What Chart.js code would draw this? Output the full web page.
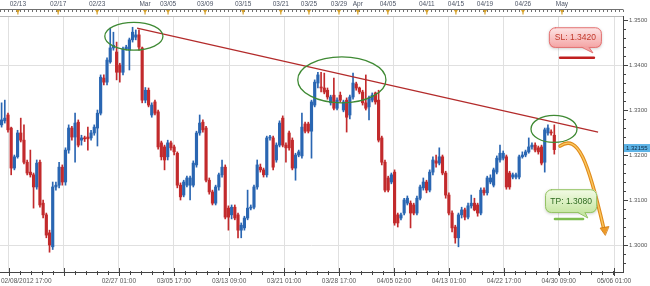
<!DOCTYPE html>
<html lang="en">
<head>
  <meta charset="UTF-8">
  <title>EUR/USD H8</title>
  <script src="https://cdn.jsdelivr.net/npm/chart.js"></script>
  <style>
    html, body { margin: 0; padding: 0; background: #fff; }
    canvas { display: block; }
  </style>
</head>
<body>
  <canvas id="fxChart" width="650" height="286"></canvas>
  <script>
    // candle values (oldest first)
    const opens = [
      1.3267, 1.3276, 1.3289, 1.3260, 1.3171, 1.3196, 1.3249, 1.3233, 1.3184, 1.3162,
      1.3156, 1.3129, 1.3184, 1.3093, 1.3067, 1.3027, 1.2996, 1.3129, 1.3133, 1.3173,
      1.3140, 1.3211, 1.3260, 1.3240, 1.3273, 1.3233, 1.3238, 1.3240, 1.3238, 1.3249,
      1.3260, 1.3293, 1.3371, 1.3362, 1.3407, 1.3438, 1.3429, 1.3400, 1.3384, 1.3436,
      1.3433, 1.3456, 1.3462, 1.3467, 1.3438, 1.3322, 1.3344, 1.3289, 1.3318, 1.3296,
      1.3227, 1.3218, 1.3196, 1.3227, 1.3218, 1.3204, 1.3133, 1.3111, 1.3133, 1.3133,
      1.3133, 1.3178, 1.3249, 1.3273, 1.3260, 1.3144, 1.3118, 1.3093, 1.3129, 1.3156,
      1.3173, 1.3082, 1.3067, 1.3084, 1.3067, 1.3033, 1.3038, 1.3060, 1.3082, 1.3084,
      1.3129, 1.3173, 1.3167, 1.3156, 1.3238, 1.3238, 1.3189, 1.3222, 1.3282, 1.3222,
      1.3249, 1.3233, 1.3171, 1.3200, 1.3198, 1.3269, 1.3269, 1.3253, 1.3311, 1.3360,
      1.3351, 1.3349, 1.3344, 1.3316, 1.3333, 1.3304, 1.3333, 1.3300, 1.3322, 1.3289,
      1.3329, 1.3358, 1.3349, 1.3340, 1.3316, 1.3307, 1.3322, 1.3338, 1.3322, 1.3238,
      1.3184, 1.3149, 1.3140, 1.3162, 1.3067, 1.3060, 1.3071, 1.3093, 1.3093, 1.3089,
      1.3071, 1.3104, 1.3127, 1.3140, 1.3122, 1.3162, 1.3187, 1.3182, 1.3196, 1.3160,
      1.3111, 1.3071, 1.3040, 1.3016, 1.3067, 1.3078, 1.3062, 1.3087, 1.3093, 1.3089,
      1.3071, 1.3122, 1.3116, 1.3140, 1.3133, 1.3162, 1.3189, 1.3193, 1.3196, 1.3160,
      1.3151, 1.3151, 1.3151, 1.3196, 1.3200, 1.3207, 1.3218, 1.3222, 1.3216, 1.3218,
      1.3184, 1.3249, 1.3251, 1.3244
    ];
    const highs = [
      1.3316, 1.3322, 1.3293, 1.3262, 1.3200, 1.3255, 1.3282, 1.3267, 1.3189, 1.3211,
      1.3160, 1.3189, 1.3189, 1.3100, 1.3071, 1.3033, 1.3140, 1.3140, 1.3184, 1.3178,
      1.3216, 1.3267, 1.3264, 1.3293, 1.3278, 1.3244, 1.3242, 1.3262, 1.3255, 1.3267,
      1.3300, 1.3378, 1.3378, 1.3416, 1.3482, 1.3473, 1.3451, 1.3404, 1.3440, 1.3444,
      1.3460, 1.3484, 1.3478, 1.3478, 1.3440, 1.3350, 1.3349, 1.3316, 1.3322, 1.3300,
      1.3231, 1.3222, 1.3233, 1.3231, 1.3222, 1.3207, 1.3138, 1.3144, 1.3153, 1.3153,
      1.3187, 1.3253, 1.3289, 1.3278, 1.3264, 1.3149, 1.3122, 1.3133, 1.3160, 1.3189,
      1.3178, 1.3087, 1.3089, 1.3089, 1.3071, 1.3049, 1.3064, 1.3122, 1.3089, 1.3133,
      1.3189, 1.3180, 1.3171, 1.3242, 1.3244, 1.3242, 1.3227, 1.3276, 1.3287, 1.3227,
      1.3253, 1.3238, 1.3204, 1.3211, 1.3293, 1.3273, 1.3273, 1.3322, 1.3367, 1.3384,
      1.3384, 1.3382, 1.3349, 1.3333, 1.3371, 1.3327, 1.3340, 1.3322, 1.3327, 1.3333,
      1.3382, 1.3362, 1.3351, 1.3344, 1.3378, 1.3331, 1.3338, 1.3340, 1.3344, 1.3242,
      1.3189, 1.3153, 1.3160, 1.3167, 1.3071, 1.3071, 1.3104, 1.3109, 1.3098, 1.3093,
      1.3109, 1.3133, 1.3149, 1.3144, 1.3167, 1.3196, 1.3200, 1.3216, 1.3200, 1.3164,
      1.3116, 1.3076, 1.3044, 1.3071, 1.3084, 1.3082, 1.3093, 1.3111, 1.3104, 1.3093,
      1.3127, 1.3127, 1.3153, 1.3156, 1.3171, 1.3198, 1.3222, 1.3209, 1.3200, 1.3164,
      1.3160, 1.3160, 1.3200, 1.3207, 1.3211, 1.3238, 1.3227, 1.3227, 1.3220, 1.3222,
      1.3260, 1.3267, 1.3256, 1.3267
    ];
    const lows = [
      1.3262, 1.3271, 1.3251, 1.3156, 1.3167, 1.3193, 1.3229, 1.3180, 1.3156, 1.3151,
      1.3082, 1.3124, 1.3084, 1.3060, 1.3016, 1.2984, 1.2990, 1.3122, 1.3127, 1.3133,
      1.3133, 1.3204, 1.3233, 1.3184, 1.3218, 1.3222, 1.3230, 1.3211, 1.3233, 1.3244,
      1.3220, 1.3289, 1.3356, 1.3356, 1.3404, 1.3433, 1.3367, 1.3362, 1.3378, 1.3433,
      1.3389, 1.3451, 1.3456, 1.3433, 1.3316, 1.3316, 1.3307, 1.3284, 1.3289, 1.3213,
      1.3189, 1.3167, 1.3189, 1.3211, 1.3200, 1.3127, 1.3100, 1.3107, 1.3129, 1.3100,
      1.3129, 1.3173, 1.3244, 1.3251, 1.3140, 1.3113, 1.3089, 1.3089, 1.3122, 1.3151,
      1.3058, 1.3033, 1.3058, 1.3056, 1.3016, 1.3016, 1.3033, 1.3056, 1.3078, 1.3080,
      1.3124, 1.3162, 1.3151, 1.3151, 1.3233, 1.3167, 1.3184, 1.3218, 1.3218, 1.3184,
      1.3211, 1.3167, 1.3144, 1.3196, 1.3193, 1.3249, 1.3249, 1.3193, 1.3307, 1.3349,
      1.3340, 1.3336, 1.3324, 1.3311, 1.3300, 1.3300, 1.3318, 1.3296, 1.3251, 1.3280,
      1.3324, 1.3344, 1.3336, 1.3311, 1.3300, 1.3278, 1.3318, 1.3313, 1.3229, 1.3178,
      1.3118, 1.3118, 1.3136, 1.3044, 1.3040, 1.3056, 1.3067, 1.3089, 1.3038, 1.3067,
      1.3067, 1.3100, 1.3122, 1.3116, 1.3118, 1.3156, 1.3173, 1.3178, 1.3156, 1.3104,
      1.3067, 1.3029, 1.3004, 1.2996, 1.3060, 1.3056, 1.3058, 1.3082, 1.3076, 1.3064,
      1.3067, 1.3111, 1.3111, 1.3136, 1.3129, 1.3158, 1.3184, 1.3189, 1.3124, 1.3124,
      1.3147, 1.3147, 1.3147, 1.3193, 1.3196, 1.3204, 1.3213, 1.3207, 1.3202, 1.3178,
      1.3162, 1.3244, 1.3244, 1.3202
    ];
    const closes = [
      1.3278, 1.3282, 1.3256, 1.3171, 1.3196, 1.3249, 1.3233, 1.3184, 1.3160, 1.3156,
      1.3129, 1.3182, 1.3089, 1.3067, 1.3022, 1.3000, 1.3129, 1.3133, 1.3173, 1.3140,
      1.3211, 1.3260, 1.3240, 1.3271, 1.3222, 1.3238, 1.3236, 1.3236, 1.3249, 1.3262,
      1.3293, 1.3373, 1.3362, 1.3411, 1.3438, 1.3444, 1.3384, 1.3384, 1.3436, 1.3440,
      1.3456, 1.3473, 1.3467, 1.3440, 1.3322, 1.3344, 1.3311, 1.3311, 1.3293, 1.3218,
      1.3196, 1.3189, 1.3227, 1.3216, 1.3207, 1.3133, 1.3107, 1.3140, 1.3149, 1.3149,
      1.3182, 1.3249, 1.3271, 1.3256, 1.3144, 1.3118, 1.3093, 1.3129, 1.3156, 1.3173,
      1.3062, 1.3062, 1.3084, 1.3060, 1.3033, 1.3044, 1.3060, 1.3082, 1.3084, 1.3129,
      1.3178, 1.3167, 1.3156, 1.3238, 1.3240, 1.3173, 1.3222, 1.3271, 1.3222, 1.3216,
      1.3216, 1.3171, 1.3200, 1.3207, 1.3262, 1.3253, 1.3253, 1.3318, 1.3362, 1.3378,
      1.3349, 1.3340, 1.3329, 1.3329, 1.3304, 1.3322, 1.3322, 1.3318, 1.3284, 1.3329,
      1.3360, 1.3349, 1.3340, 1.3316, 1.3304, 1.3327, 1.3333, 1.3318, 1.3233, 1.3184,
      1.3122, 1.3122, 1.3156, 1.3049, 1.3049, 1.3067, 1.3100, 1.3104, 1.3071, 1.3071,
      1.3104, 1.3129, 1.3140, 1.3122, 1.3162, 1.3189, 1.3182, 1.3196, 1.3160, 1.3111,
      1.3071, 1.3038, 1.3016, 1.3067, 1.3078, 1.3062, 1.3087, 1.3093, 1.3078, 1.3071,
      1.3122, 1.3116, 1.3149, 1.3149, 1.3167, 1.3193, 1.3204, 1.3204, 1.3129, 1.3129,
      1.3156, 1.3156, 1.3196, 1.3200, 1.3207, 1.3218, 1.3222, 1.3211, 1.3207, 1.3182,
      1.3256, 1.3260, 1.3249, 1.3212
    ];

    const slotCount = 195;            // candle slots across the plot, incl. empty future
    const lastPrice = 1.32155;

    // bottom time axis: slot position and text of each major tick
    const bottomTickIdx = [2.3, 19.5, 36.7, 53.9, 71.2, 88.4, 105.6, 122.8, 140.0, 157.2, 174.4, 191.7];
    const bottomLabels = ['02/08/2012 17:00', '', '02/27 01:00', '03/05 17:00', '03/13 09:00', '03/21 01:00',
                          '03/28 17:00', '04/05 02:00', '04/13 01:00', '04/22 17:00', '04/30 09:00', '05/06 01:00'];
    // top date ruler
    const topTickIdx = [5.1, 17.7, 29.9, 44.9, 52.1, 63.7, 75.6, 87.4, 96.2, 105.6, 111.5, 120.9, 133.1, 142.2, 151.3, 163.2, 175.4];
    const topLabels = ['02/13', '02/17', '02/23', 'Mar', '03/05', '03/09', '03/15', '03/21', '03/25', '03/29',
                       'Apr', '04/05', '04/11', '04/15', '04/19', '04/26', 'May'];
    // price axis
    const priceLabels = [1.30, 1.31, 1.32, 1.33, 1.34, 1.35];
    const priceGrid = [1.30, 1.34];

    const UP = '#2a66b2', DOWN = '#c22a2c';
    const candleColors = closes.map((c, i) => c >= opens[i] ? UP : DOWN);
    const slots = opens.map((_, i) => i);

    // drawn-on analysis, in (slot, price) units
    const trendFrom = [42.4, 1.3482], trendTo = [186.7, 1.3251];
    const ellipses = [
      { c: [41.4, 1.3464], r: [9.1, 0.0031] },
      { c: [106.5, 1.3367], r: [13.8, 0.0051] },
      { c: [172.9, 1.3258], r: [7.2, 0.0030] }
    ];
    const slNote = { text: 'SL: 1.3420', box: [171.3, 187.9, 1.3484, 1.3438], tail: [181.7, 183.9, 185.1, 1.3427], line: [174.8, 185.4, 1.3416] };
    const tpNote = { text: 'TP: 1.3080', box: [170.1, 186.4, 1.3124, 1.3071], tail: [180.4, 182.6, 183.5, 1.3060], line: [173.2, 182.0, 1.3058] };
    const arrowPath = [[174.8, 1.3220], [180.4, 1.3247], [183.5, 1.3189], [188.5, 1.3036]];
    const arrowTip = [188.9, 1.3022];

    function note(ctx, xs, ys, n, fillTop, fillBot, stroke, textColor, lineColor) {
      const l = xs.getPixelForValue(n.box[0]), r = xs.getPixelForValue(n.box[1]);
      const t = ys.getPixelForValue(n.box[2]), b = ys.getPixelForValue(n.box[3]);
      const g = ctx.createLinearGradient(0, t, 0, b);
      g.addColorStop(0, fillTop);
      g.addColorStop(1, fillBot);
      ctx.save();
      ctx.shadowColor = 'rgba(0,0,0,0.18)';
      ctx.shadowBlur = 3;
      ctx.shadowOffsetY = 1;
      ctx.beginPath();
      ctx.roundRect(l, t, r - l, b - t, 6);
      ctx.fillStyle = g;
      ctx.fill();
      ctx.restore();
      ctx.strokeStyle = stroke;
      ctx.lineWidth = 1;
      ctx.beginPath();
      ctx.roundRect(l + 0.5, t + 0.5, r - l - 1, b - t - 1, 6);
      ctx.stroke();
      // tail
      const ta = xs.getPixelForValue(n.tail[0]), tb = xs.getPixelForValue(n.tail[1]);
      const tx = xs.getPixelForValue(n.tail[2]), ty = ys.getPixelForValue(n.tail[3]);
      ctx.beginPath();
      ctx.moveTo(ta, b - 1);
      ctx.lineTo(tx, ty);
      ctx.lineTo(tb, b - 1);
      ctx.closePath();
      ctx.fillStyle = fillBot;
      ctx.fill();
      ctx.beginPath();
      ctx.moveTo(ta, b - 0.5);
      ctx.lineTo(tx, ty);
      ctx.lineTo(tb, b - 0.5);
      ctx.stroke();
      ctx.fillStyle = textColor;
      ctx.font = '8.5px "Liberation Sans", Arial, sans-serif';
      ctx.textAlign = 'center';
      ctx.textBaseline = 'middle';
      ctx.fillText(n.text, (l + r) / 2, (t + b) / 2 + 0.5);
      // level line below
      ctx.strokeStyle = lineColor;
      ctx.lineWidth = 2.5;
      ctx.beginPath();
      const ly = ys.getPixelForValue(n.line[2]);
      ctx.moveTo(xs.getPixelForValue(n.line[0]), ly);
      ctx.lineTo(xs.getPixelForValue(n.line[1]), ly);
      ctx.stroke();
    }

    const decor = {
      id: 'decor',
      afterDatasetsDraw(chart) {
        const { ctx, scales: { x, y } } = chart;
        const P = p => [x.getPixelForValue(p[0]), y.getPixelForValue(p[1])];
        ctx.save();
        // trend line
        const a = P(trendFrom), b = P(trendTo);
        ctx.strokeStyle = '#b32b2b';
        ctx.lineWidth = 1.2;
        ctx.beginPath();
        ctx.moveTo(a[0], a[1]);
        ctx.lineTo(b[0], b[1]);
        ctx.stroke();
        // ellipses
        ctx.strokeStyle = '#3f8a34';
        ctx.lineWidth = 1.3;
        ellipses.forEach(e => {
          const c = P(e.c);
          const rx = Math.abs(x.getPixelForValue(e.c[0] + e.r[0]) - c[0]);
          const ry = Math.abs(y.getPixelForValue(e.c[1] + e.r[1]) - c[1]);
          ctx.beginPath();
          ctx.ellipse(c[0], c[1], rx, ry, 0, 0, Math.PI * 2);
          ctx.stroke();
        });
        // orange arrow
        const q = arrowPath.map(P);
        ctx.lineCap = 'round';
        [['#e08a1c', 3.6], ['#fbc960', 1.4]].forEach(([col, w]) => {
          ctx.strokeStyle = col;
          ctx.lineWidth = w;
          ctx.beginPath();
          ctx.moveTo(q[0][0], q[0][1]);
          ctx.bezierCurveTo(q[1][0], q[1][1], q[2][0], q[2][1], q[3][0], q[3][1]);
          ctx.stroke();
        });
        const tip = P(arrowTip);
        ctx.fillStyle = '#ee9a26';
        ctx.strokeStyle = '#d07a10';
        ctx.lineWidth = 0.8;
        ctx.beginPath();
        ctx.moveTo(tip[0], tip[1]);
        ctx.lineTo(tip[0] - 5, tip[1] - 7);
        ctx.lineTo(tip[0] + 3.5, tip[1] - 8.5);
        ctx.closePath();
        ctx.fill();
        ctx.stroke();
        // callouts
        note(ctx, x, y, slNote, '#fde6e6', '#f4a3a3', '#e27373', '#c0392b', '#c01f1f');
        note(ctx, x, y, tpNote, '#f3fbe6', '#c6e6a2', '#93c264', '#2d6a1f', '#7dbd4f');
        ctx.restore();
      },
      afterDraw(chart) {
        const { ctx, chartArea: ca, scales: { x, y } } = chart;
        ctx.save();
        ctx.font = '6.5px "Liberation Sans", Arial, sans-serif';
        ctx.textBaseline = 'middle';
        // frame
        ctx.strokeStyle = '#b8b8b8';
        ctx.lineWidth = 1;
        ctx.beginPath();
        ctx.moveTo(ca.left, ca.top + 0.5);
        ctx.lineTo(ca.right, ca.top + 0.5);
        ctx.stroke();
        ctx.strokeStyle = '#444';
        ctx.beginPath();
        ctx.moveTo(ca.left, ca.bottom + 0.5);
        ctx.lineTo(ca.right + 0.5, ca.bottom + 0.5);
        ctx.moveTo(ca.right + 0.5, ca.top);
        ctx.lineTo(ca.right + 0.5, ca.bottom + 1);
        ctx.stroke();

        // bottom ticks and labels
        const step = bottomTickIdx[1] - bottomTickIdx[0];
        ctx.beginPath();
        for (let v = bottomTickIdx[0] - step; v < slotCount; v += step / 5) {
          const px = Math.round(x.getPixelForValue(v)) + 0.5;
          if (px < 0 || px > ca.right) continue;
          ctx.moveTo(px, ca.bottom - 1);
          ctx.lineTo(px, ca.bottom + 3);
        }
        bottomTickIdx.forEach(v => {
          const px = Math.round(x.getPixelForValue(v)) + 0.5;
          ctx.moveTo(px, ca.bottom - 4);
          ctx.lineTo(px, ca.bottom + 4);
        });
        ctx.stroke();
        ctx.fillStyle = '#555';
        ctx.textAlign = 'left';
        bottomLabels.forEach((t, i) => {
          if (!t) return;
          const w = ctx.measureText(t).width;
          const px = Math.max(1, x.getPixelForValue(bottomTickIdx[i]) - w / 2);
          ctx.fillText(t, px, 281);
        });

        // top date ruler
        ctx.strokeStyle = '#707070';
        ctx.beginPath();
        ctx.moveTo(0, 9.5);
        ctx.lineTo(ca.right, 9.5);
        for (let v = -0.5; v < slotCount; v += 1.25) {
          const px = Math.round(x.getPixelForValue(v)) + 0.5;
          ctx.moveTo(px, 9.5);
          ctx.lineTo(px, 12);
        }
        ctx.stroke();
        ctx.fillStyle = '#d6a12a';
        topTickIdx.forEach(v => {
          const px = x.getPixelForValue(v);
          ctx.beginPath();
          ctx.moveTo(px - 2, 10);
          ctx.lineTo(px + 2, 10);
          ctx.lineTo(px + 0.6, 12.5);
          ctx.lineTo(px + 0.6, 14.5);
          ctx.lineTo(px - 0.6, 14.5);
          ctx.lineTo(px - 0.6, 12.5);
          ctx.closePath();
          ctx.fill();
        });
        ctx.fillStyle = '#4d5566';
        ctx.textAlign = 'center';
        topLabels.forEach((t, i) => ctx.fillText(t, x.getPixelForValue(topTickIdx[i]), 4.5));

        // price axis
        ctx.strokeStyle = '#444';
        ctx.beginPath();
        for (let v = 1.294; v <= 1.351; v += 0.002) {
          const py = Math.round(y.getPixelForValue(v)) + 0.5;
          if (py < ca.top || py > ca.bottom) continue;
          ctx.moveTo(ca.right, py);
          ctx.lineTo(ca.right + 3, py);
        }
        priceLabels.forEach(v => {
          const py = Math.round(y.getPixelForValue(v)) + 0.5;
          ctx.moveTo(ca.right, py);
          ctx.lineTo(ca.right + 5, py);
        });
        ctx.stroke();
        ctx.font = '6px "Liberation Sans", Arial, sans-serif';
        ctx.fillStyle = '#555';
        ctx.textAlign = 'left';
        priceLabels.forEach(v => ctx.fillText(v.toFixed(4), ca.right + 6, y.getPixelForValue(v)));
        // last price tag
        const ly = y.getPixelForValue(lastPrice);
        ctx.fillStyle = '#5cb3e6';
        ctx.fillRect(ca.right + 1, ly - 4, 27, 8);
        ctx.fillStyle = '#0b2540';
        ctx.fillText(lastPrice.toFixed(5), ca.right + 3, ly + 0.5);
        ctx.restore();
      }
    };

    new Chart(document.getElementById('fxChart'), {
      type: 'bar',
      data: {
        datasets: [
          {
            label: 'wicks',
            data: slots.map(i => ({ x: i, y: [lows[i], highs[i]] })),
            backgroundColor: candleColors,
            barThickness: 1,
            grouped: false,
            order: 2
          },
          {
            label: 'bodies',
            data: slots.map(i => ({ x: i, y: [Math.min(opens[i], closes[i]), Math.max(opens[i], closes[i])] })),
            backgroundColor: candleColors,
            barThickness: 2.5,
            minBarLength: 1,
            grouped: false,
            order: 1
          }
        ]
      },
      options: {
        responsive: false,
        animation: false,
        layout: { padding: 0 },
        plugins: { legend: { display: false }, tooltip: { enabled: false } },
        scales: {
          x: {
            type: 'linear', position: 'bottom', min: -0.5, max: slotCount - 0.5, offset: false,
            ticks: { display: false },
            grid: { color: '#e0e0e0', drawTicks: false, offset: false },
            border: { display: false },
            afterBuildTicks: s => { s.ticks = bottomTickIdx.map(v => ({ value: v })); },
            afterFit: s => { s.height = 14; }
          },
          xTop: {
            type: 'linear', position: 'top', min: -0.5, max: slotCount - 0.5, offset: false,
            ticks: { display: false },
            grid: { display: false, drawTicks: false },
            border: { display: false },
            afterFit: s => { s.height = 16; }
          },
          y: {
            type: 'linear', position: 'right', min: 1.2940, max: 1.3509,
            ticks: { display: false },
            grid: { color: '#e0e0e0', drawTicks: false },
            border: { display: false },
            afterBuildTicks: s => { s.ticks = priceGrid.map(v => ({ value: v })); },
            afterFit: s => { s.width = 27; }
          }
        }
      },
      plugins: [decor]
    });
  </script>
</body>
</html>
